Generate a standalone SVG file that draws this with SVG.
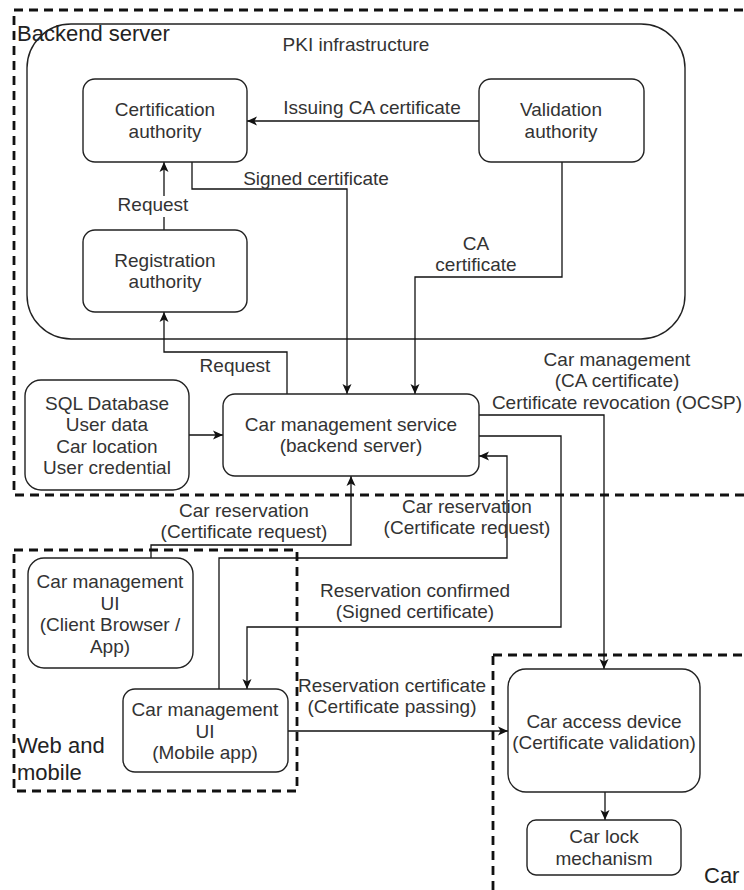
<svg xmlns="http://www.w3.org/2000/svg" width="744" height="890" viewBox="0 0 744 890">
<style>
.t{font-family:"Liberation Sans",Arial,sans-serif;font-size:19px;fill:#333;text-anchor:middle}
.big{font-family:"Liberation Sans",Arial,sans-serif;font-size:22px;fill:#222}
.node{fill:#fff;stroke:#222;stroke-width:1.4}
.dash{fill:none;stroke:#111;stroke-width:2.8;stroke-dasharray:9 6}
.e{fill:none;stroke:#111;stroke-width:1.3}
.ea{fill:none;stroke:#111;stroke-width:1.3;marker-end:url(#arr)}
</style>
<defs>
<marker id="arr" markerUnits="userSpaceOnUse" markerWidth="12" markerHeight="12" viewBox="0 0 12 12" refX="11" refY="6" orient="auto">
<path d="M1,1.5 L11,6 L1,10.5 L3.5,6 z" fill="#111"/>
</marker>
</defs>
<rect width="744" height="890" fill="#fff"/>

<g id="containers">
<rect class="dash" x="14" y="10" width="745" height="485"/>
<rect class="dash" x="14" y="550" width="283" height="241"/>
<rect class="dash" x="493" y="655" width="270" height="260"/>
<rect id="pki" x="27" y="24" width="658" height="315" rx="44" ry="44" fill="none" stroke="#222" stroke-width="1.4"/>
<text class="big" x="17" y="41">Backend server</text>
<text class="t" x="356" y="51">PKI infrastructure</text>
<text class="big" x="17" y="753">Web and</text>
<text class="big" x="17" y="780">mobile</text>
<text class="big" x="704" y="883">Car</text>
</g>

<g id="connectors">
<path class="ea" d="M479,121 H247"/>
<text class="t" x="372" y="114">Issuing CA certificate</text>

<path class="ea" d="M164,230 V162"/>
<rect x="117" y="196" width="72" height="21" fill="#fff"/>
<text class="t" x="153" y="211">Request</text>

<path class="ea" d="M192,162 V189 H347 V394"/>
<text class="t" x="316" y="185">Signed certificate</text>

<path class="ea" d="M562,162 V277 H415 V394"/>
<text class="t" x="476" y="250">CA</text>
<text class="t" x="476" y="271">certificate</text>

<path class="ea" d="M287,394 V352 H164 V312"/>
<text class="t" x="235" y="372">Request</text>

<path class="ea" d="M189,435 H223"/>

<path class="ea" d="M479,415 H604 V669"/>
<text class="t" x="617" y="366">Car management</text>
<text class="t" x="617" y="387">(CA certificate)</text>
<text class="t" x="617" y="409">Certificate revocation (OCSP)</text>

<path class="ea" d="M479,436 H561 V627 H247 V689"/>
<text class="t" x="415" y="597">Reservation confirmed</text>
<text class="t" x="415" y="618">(Signed certificate)</text>

<path class="ea" d="M219,689 V558 H507 V456 H479"/>
<text class="t" x="467" y="513">Car reservation</text>
<text class="t" x="467" y="534">(Certificate request)</text>

<path class="ea" d="M151,558 V545 H351 V476"/>
<text class="t" x="244" y="517">Car reservation</text>
<text class="t" x="244" y="538">(Certificate request)</text>

<path class="ea" d="M288,731 H508"/>
<text class="t" x="392" y="692">Reservation certificate</text>
<text class="t" x="392" y="713">(Certificate passing)</text>

<path class="ea" d="M605,792 V820"/>
</g>

<g id="ca">
<rect class="node" x="83" y="79" width="164" height="83" rx="12"/>
<text class="t" x="165" y="116">Certification</text>
<text class="t" x="165" y="138">authority</text>
</g>
<g id="va">
<rect class="node" x="479" y="79" width="165" height="83" rx="12"/>
<text class="t" x="561" y="116">Validation</text>
<text class="t" x="561" y="138">authority</text>
</g>
<g id="ra">
<rect class="node" x="83" y="230" width="164" height="82" rx="12"/>
<text class="t" x="165" y="267">Registration</text>
<text class="t" x="165" y="288">authority</text>
</g>
<g id="sql">
<rect class="node" x="25" y="380" width="164" height="110" rx="16"/>
<text class="t" x="107" y="410">SQL Database</text>
<text class="t" x="107" y="431">User data</text>
<text class="t" x="107" y="453">Car location</text>
<text class="t" x="107" y="474">User credential</text>
</g>
<g id="cms">
<rect class="node" x="223" y="394" width="256" height="82" rx="12"/>
<text class="t" x="351" y="431">Car management service</text>
<text class="t" x="351" y="452">(backend server)</text>
</g>
<g id="ui_client">
<rect class="node" x="28" y="558" width="165" height="110" rx="16"/>
<text class="t" x="110" y="588">Car management</text>
<text class="t" x="110" y="610">UI</text>
<text class="t" x="110" y="631">(Client Browser /</text>
<text class="t" x="110" y="653">App)</text>
</g>
<g id="ui_mobile">
<rect class="node" x="123" y="689" width="165" height="83" rx="12"/>
<text class="t" x="205" y="716">Car management</text>
<text class="t" x="205" y="738">UI</text>
<text class="t" x="205" y="759">(Mobile app)</text>
</g>
<g id="access">
<rect class="node" x="508" y="669" width="192" height="123" rx="18"/>
<text class="t" x="604" y="728">Car access device</text>
<text class="t" x="604" y="749">(Certificate validation)</text>
</g>
<g id="lock">
<rect class="node" x="527" y="820" width="154" height="55" rx="9"/>
<text class="t" x="604" y="843">Car lock</text>
<text class="t" x="604" y="865">mechanism</text>
</g>
</svg>
